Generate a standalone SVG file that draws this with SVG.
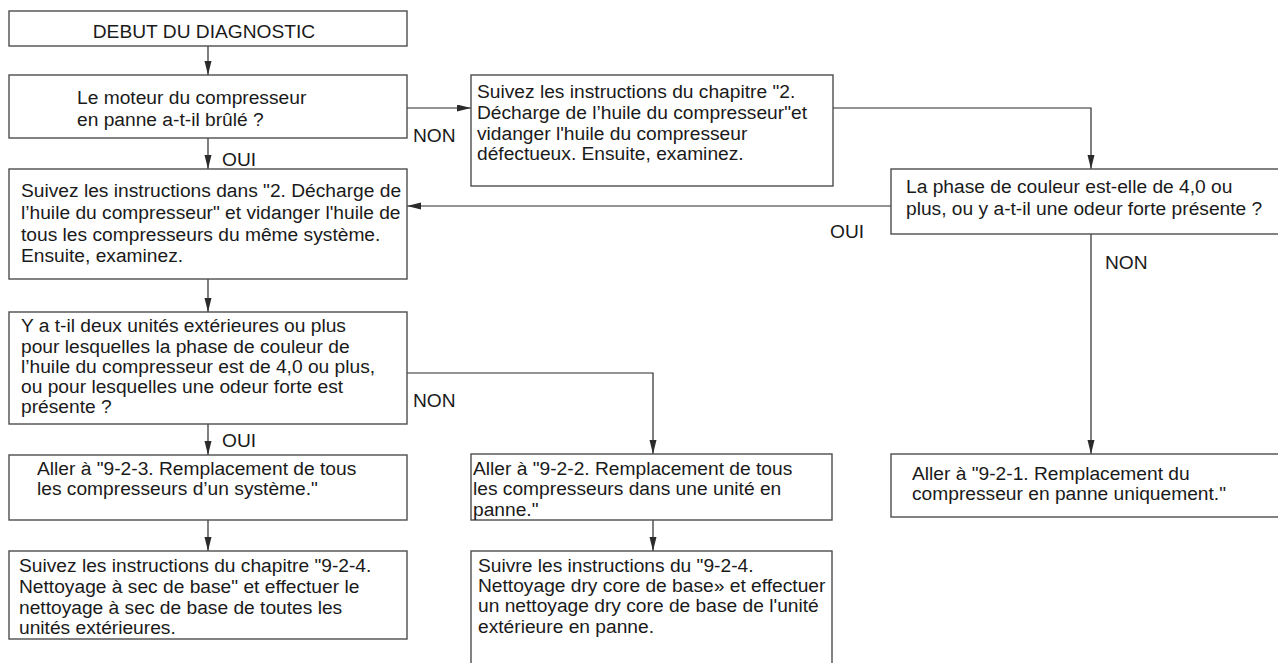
<svg xmlns="http://www.w3.org/2000/svg" width="1278" height="663" viewBox="0 0 1278 663">
  <style>
    .box { fill: #ffffff; stroke: #4d4d4d; stroke-width: 1.4; }
    .link { fill: none; stroke: #2b2b2b; stroke-width: 1.2; }
    text { font-family: "Liberation Sans", Arial, sans-serif; font-size: 19.2px; fill: #1a1a1a; }
  </style>
  <defs>
    <marker id="arrow" markerUnits="userSpaceOnUse" markerWidth="14" markerHeight="8" refX="14" refY="3.5" orient="auto">
      <path d="M0,0 L14,3.5 L0,7 z" fill="#2b2b2b"/>
    </marker>
  </defs>
  <rect width="1278" height="663" fill="#ffffff"/>

  <!-- connectors -->
  <g id="connectors">
    <line class="link" x1="208" y1="46" x2="208" y2="75" marker-end="url(#arrow)"/>
    <line class="link" x1="208" y1="138" x2="208" y2="169" marker-end="url(#arrow)"/>
    <line class="link" x1="407" y1="108" x2="471" y2="108" marker-end="url(#arrow)"/>
    <polyline class="link" points="833,108 1091,108 1091,169" marker-end="url(#arrow)"/>
    <line class="link" x1="891" y1="206" x2="407" y2="206" marker-end="url(#arrow)"/>
    <line class="link" x1="208" y1="279" x2="208" y2="312" marker-end="url(#arrow)"/>
    <line class="link" x1="1091" y1="234" x2="1091" y2="454" marker-end="url(#arrow)"/>
    <polyline class="link" points="407,373 653,373 653,454" marker-end="url(#arrow)"/>
    <line class="link" x1="208" y1="424" x2="208" y2="455" marker-end="url(#arrow)"/>
    <line class="link" x1="208" y1="520" x2="208" y2="551" marker-end="url(#arrow)"/>
    <line class="link" x1="653" y1="520" x2="653" y2="551" marker-end="url(#arrow)"/>
    <text x="413" y="142">NON</text>
    <text x="222" y="166">OUI</text>
    <text x="830" y="238">OUI</text>
    <text x="1105" y="269">NON</text>
    <text x="413" y="407">NON</text>
    <text x="222" y="447">OUI</text>
  </g>

  <g id="start">
    <rect class="box" x="9" y="11" width="398" height="35"/>
    <text x="204" y="38" text-anchor="middle">DEBUT DU DIAGNOSTIC</text>
  </g>

  <g id="q-burnt">
    <rect class="box" x="9" y="75" width="398" height="63"/>
    <text x="77" y="104">Le moteur du compresseur</text>
    <text x="77" y="126">en panne a-t-il brûlé ?</text>
  </g>

  <g id="drain-faulty">
    <rect class="box" x="471" y="75" width="362" height="111"/>
    <text x="477" y="98">Suivez les instructions du chapitre "2.</text>
    <text x="477" y="119">Décharge de l’huile du compresseur"et</text>
    <text x="477" y="140">vidanger l'huile du compresseur</text>
    <text x="477" y="160">défectueux. Ensuite, examinez.</text>
  </g>

  <g id="drain-all">
    <rect class="box" x="9" y="169" width="398" height="110"/>
    <text x="21" y="197">Suivez les instructions dans "2. Décharge de</text>
    <text x="21" y="219">l’huile du compresseur" et vidanger l'huile de</text>
    <text x="21" y="241">tous les compresseurs du même système.</text>
    <text x="21" y="262">Ensuite, examinez.</text>
  </g>

  <g id="q-colour">
    <rect class="box" x="891" y="169" width="400" height="65"/>
    <text x="906" y="193">La phase de couleur est-elle de 4,0 ou</text>
    <text x="906" y="215">plus, ou y a-t-il une odeur forte présente ?</text>
  </g>

  <g id="q-units">
    <rect class="box" x="9" y="312" width="398" height="112"/>
    <text x="21" y="332">Y a t-il deux unités extérieures ou plus</text>
    <text x="21" y="352.5">pour lesquelles la phase de couleur de</text>
    <text x="21" y="373">l’huile du compresseur est de 4,0 ou plus,</text>
    <text x="21" y="393">ou pour lesquelles une odeur forte est</text>
    <text x="21" y="413">présente ?</text>
  </g>

  <g id="replace-system">
    <rect class="box" x="9" y="455" width="398" height="65"/>
    <text x="37" y="475">Aller à "9-2-3. Remplacement de tous</text>
    <text x="37" y="495">les compresseurs d’un système."</text>
  </g>

  <g id="clean-all">
    <rect class="box" x="9" y="551" width="398" height="88"/>
    <text x="19" y="572">Suivez les instructions du chapitre "9-2-4.</text>
    <text x="19" y="593">Nettoyage à sec de base" et effectuer le</text>
    <text x="19" y="614">nettoyage à sec de base de toutes les</text>
    <text x="19" y="634">unités extérieures.</text>
  </g>

  <g id="replace-unit">
    <rect class="box" x="471" y="454" width="361" height="66"/>
    <text x="473" y="475">Aller à "9-2-2. Remplacement de tous</text>
    <text x="473" y="495">les compresseurs dans une unité en</text>
    <text x="473" y="516">panne."</text>
  </g>

  <g id="clean-unit">
    <rect class="box" x="471" y="551" width="361" height="130"/>
    <text x="478" y="572">Suivre les instructions du "9-2-4.</text>
    <text x="478" y="592">Nettoyage dry core de base» et effectuer</text>
    <text x="478" y="612">un nettoyage dry core de base de l'unité</text>
    <text x="478" y="633">extérieure en panne.</text>
  </g>

  <g id="replace-one">
    <rect class="box" x="891" y="454" width="400" height="63"/>
    <text x="912" y="480">Aller à "9-2-1. Remplacement du</text>
    <text x="912" y="500">compresseur en panne uniquement."</text>
  </g>
</svg>
